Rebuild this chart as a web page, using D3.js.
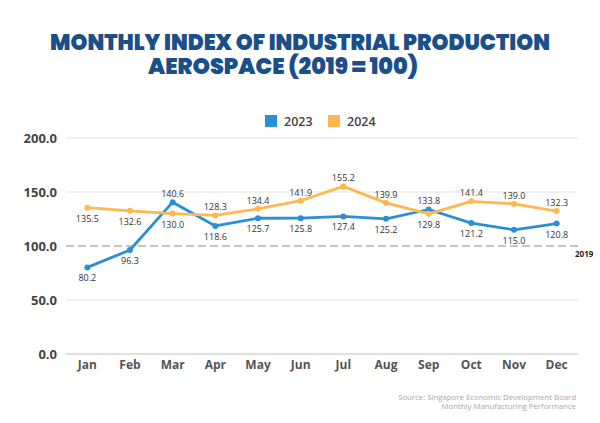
<!DOCTYPE html>
<html><head><meta charset="utf-8">
<script src="https://cdn.jsdelivr.net/npm/d3@7"></script>
<style>body{margin:0;background:#fff}svg{display:block}</style>
</head><body>
<svg id="c" width="600" height="423"></svg>
<script>
const months = ["Jan","Feb","Mar","Apr","May","Jun","Jul","Aug","Sep","Oct","Nov","Dec"];
const values2023 = [80.2,96.3,140.6,118.6,125.7,125.8,127.4,125.2,133.8,121.2,115.0,120.8];
const values2024 = [135.5,132.6,130.0,128.3,134.4,141.9,155.2,139.9,129.8,141.4,139.0,132.3];
const labelAbove2023 = [0,0,1,0,0,0,0,0,1,0,0,0];
const labelAbove2024 = [0,0,0,1,1,1,1,1,0,1,1,1];
const yTicks = [0,50,100,150,200];
const seriesNames = ["2023","2024"];
const colors = ["#2b8fd8","#ffb84f"];
const titleLines = ["MONTHLY INDEX OF INDUSTRIAL PRODUCTION","AEROSPACE (2019 = 100)"];

const svg = d3.select("#c");
const x = d3.scaleBand().domain(months).range([66,578]);
const y = d3.scaleLinear().domain([0,200]).range([354,138]);

// title (single text, two lines)
const tf = "Poppins, Inter, 'Open Sans', sans-serif";
const title = svg.append("text").attr("text-anchor","middle")
  .attr("font-family",tf).attr("font-weight",900).attr("font-size",22.5).attr("fill","#1b4f8a");
title.append("tspan").attr("x",300).attr("y",50)
  .attr("textLength",500).attr("lengthAdjust","spacingAndGlyphs").text(titleLines[0]);
title.append("tspan").attr("x",283).attr("y",74)
  .attr("textLength",270).attr("lengthAdjust","spacingAndGlyphs").text(titleLines[1]);

// legend
const lg = svg.append("g");
seriesNames.forEach((n,i)=>{
  const lx = 265 + i*63;
  lg.append("rect").attr("x",lx).attr("y",115).attr("width",12).attr("height",12).attr("fill",colors[i]);
  lg.append("text").attr("x",lx+19).attr("y",126).attr("font-family","'Open Sans',sans-serif")
    .attr("font-weight",600).attr("font-size",12.5).attr("fill","#444").text(n);
});

// grid
svg.append("g").selectAll("line").data(yTicks.filter(d=>d!==100 && d!==0)).join("line")
  .attr("x1",66).attr("x2",578).attr("y1",d=>y(d)).attr("y2",d=>y(d))
  .attr("stroke","#e3e3e3").attr("stroke-width",1.2);
svg.append("line").attr("x1",66).attr("x2",578).attr("y1",y(0)).attr("y2",y(0))
  .attr("stroke","#d6d6d6").attr("stroke-width",1.5);
svg.append("line").attr("x1",66).attr("x2",578).attr("y1",y(100)).attr("y2",y(100))
  .attr("stroke","#c4c4c4").attr("stroke-width",2).attr("stroke-dasharray","8,4");
svg.append("text").attr("x",575).attr("y",y(100)+11).attr("font-family","'Open Sans',sans-serif")
  .attr("font-weight",700).attr("font-size",8).attr("fill","#222").text("2019");

// y axis
const yAxis = d3.axisLeft(y).tickValues(yTicks).tickFormat(d3.format(".1f")).tickSize(0).tickPadding(0);
const ya = svg.append("g").attr("transform","translate(57,0)").call(yAxis);
ya.select(".domain").remove();
ya.selectAll("text").attr("font-family","'Open Sans',sans-serif").attr("font-weight",700)
  .attr("font-size",13).attr("fill","#444");

// x axis
const xAxis = d3.axisBottom(x).tickSize(0).tickPadding(6);
const xa = svg.append("g").attr("transform",`translate(0,${y(0)})`).call(xAxis);
xa.select(".domain").remove();
xa.selectAll("text").attr("font-family","'Open Sans',sans-serif").attr("font-weight",700)
  .attr("font-size",12).attr("fill","#555");

// lines
const cx = m => x(m) + x.bandwidth()/2;
const line = d3.line().x((d,i)=>cx(months[i])).y(d=>y(d));
[values2023, values2024].forEach((vals,si)=>{
  svg.append("path").datum(vals).attr("d",line).attr("fill","none")
    .attr("stroke",colors[si]).attr("stroke-width",2.8).attr("stroke-linejoin","round");
  svg.append("g").selectAll("circle").data(vals).join("circle")
    .attr("cx",(d,i)=>cx(months[i])).attr("cy",d=>y(d)).attr("r",3).attr("fill",colors[si]);
});
[[values2023,labelAbove2023],[values2024,labelAbove2024]].forEach(([vals,ab])=>{
  svg.append("g").selectAll("text").data(vals).join("text")
    .attr("x",(d,i)=>cx(months[i])).attr("y",(d,i)=>y(d)+(ab[i]?-5:14))
    .attr("text-anchor","middle").attr("font-family","'Open Sans',sans-serif")
    .attr("font-size",9).attr("fill","#333").text(d=>d.toFixed(1));
});

// source
[["Source: Singapore Economic Development Board",400],["Monthly Manufacturing Performance",409]].forEach(([t,yy])=>{
  svg.append("text").attr("x",576).attr("y",yy).attr("text-anchor","end")
    .attr("font-family","'Open Sans',sans-serif").attr("font-size",7.8).attr("fill","#a8a8a8").text(t);
});
</script>
</body></html>
